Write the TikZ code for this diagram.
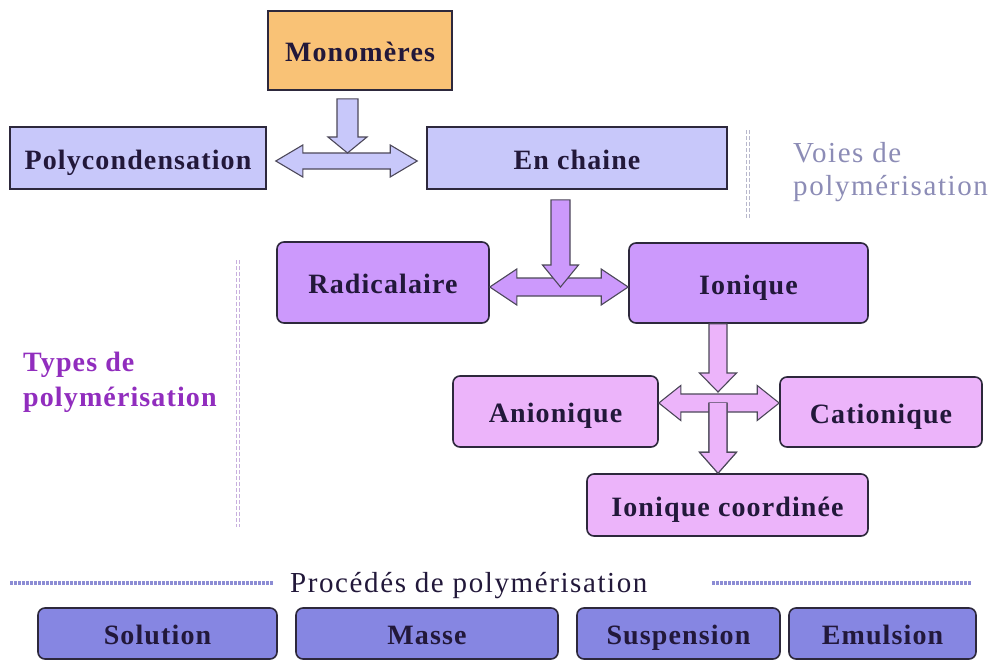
\documentclass[tikz,border=0pt]{standalone}
\usepackage{fontspec}
\setmainfont{Liberation Serif}
\newfontfamily\trackfont{Liberation Serif}[LetterSpace=4]
\newfontfamily\trackfontw{Liberation Serif}[LetterSpace=5.5]
\usetikzlibrary{calc}
\definecolor{monofill}{RGB}{249,194,118}
\definecolor{bluefill}{RGB}{200,200,250}
\definecolor{purpfill}{RGB}{204,153,252}
\definecolor{pinkfill}{RGB}{236,180,250}
\definecolor{procfill}{RGB}{134,134,226}
\definecolor{boxline}{RGB}{45,40,60}
\definecolor{txtdark}{RGB}{34,24,58}
\definecolor{voiescol}{RGB}{140,140,182}
\definecolor{typescol}{RGB}{145,45,190}
\definecolor{dotblue}{RGB}{140,140,212}
\definecolor{dotgray}{RGB}{184,184,204}
\definecolor{dotpurp}{RGB}{200,176,222}
\newcommand\blockdown[6]{%
  \filldraw[#1] ($(#2)+(-#4,0)$) -- ($(#3)+(-#4,-#6)$) -- ($(#3)+(-#5,-#6)$) -- (#3)
    -- ($(#3)+(#5,-#6)$) -- ($(#3)+(#4,-#6)$) -- ($(#2)+(#4,0)$) -- cycle;}
\newcommand\blockdownopen[6]{%
  \fill[#1] ($(#2)+(-#4,0)$) -- ($(#3)+(-#4,-#6)$) -- ($(#3)+(-#5,-#6)$) -- (#3)
    -- ($(#3)+(#5,-#6)$) -- ($(#3)+(#4,-#6)$) -- ($(#2)+(#4,0)$) -- cycle;
  \draw[#1] ($(#2)+(-#4,0)$) -- ($(#3)+(-#4,-#6)$) -- ($(#3)+(-#5,-#6)$) -- (#3)
    -- ($(#3)+(#5,-#6)$) -- ($(#3)+(#4,-#6)$) -- ($(#2)+(#4,0)$);}
\newcommand\blockdouble[6]{%
  \filldraw[#1] (#2) -- ($(#2)+(#6,-#5)$) -- ($(#2)+(#6,-#4)$) -- ($(#3)+(-#6,-#4)$)
    -- ($(#3)+(-#6,-#5)$) -- (#3) -- ($(#3)+(-#6,#5)$) -- ($(#3)+(-#6,#4)$)
    -- ($(#2)+(#6,#4)$) -- ($(#2)+(#6,#5)$) -- cycle;}
\begin{document}
\begin{tikzpicture}[x=1pt,y=-1pt,
  boxfont/.style={font=\trackfont\bfseries\fontsize{28}{32}\selectfont, text=txtdark},
  sqbox/.style={boxfont, draw=boxline, line width=1.6pt, inner sep=0pt, text height=22pt, text depth=0pt},
  rdbox/.style={sqbox, rounded corners=7pt},
  procbox/.style={rdbox, fill=procfill, minimum height=51pt},
  sidefont/.style={font=\trackfontw\fontsize{29}{34}\selectfont, anchor=base west, inner sep=0pt},
  arrowline/.style={draw=boxline!85, line width=1.1pt, line join=miter},
  dotline/.style={line width=3.2pt, dash pattern=on 3pt off 1pt},
  vdot/.style={line width=0.9pt, dash pattern=on 4pt off 2pt}]
\useasboundingbox[fill=white] (0,0) rectangle (995,661);

% boxes
\node[sqbox, fill=monofill, minimum width=184pt, minimum height=79pt] (mono) at (360,50.5) {Monomères};
\node[sqbox, fill=bluefill, minimum width=256pt, minimum height=62pt] (poly) at (138,158) {Polycondensation};
\node[sqbox, fill=bluefill, minimum width=300pt, minimum height=62pt] (chain) at (577,158) {En chaine};
\node[rdbox, fill=purpfill, minimum width=212pt, minimum height=81pt] (rad) at (383,282.5) {Radicalaire};
\node[rdbox, fill=purpfill, minimum width=239pt, minimum height=80pt] (ion) at (748.5,283) {Ionique};
\node[rdbox, fill=pinkfill, minimum width=205pt, minimum height=71pt] (anion) at (555.5,411.5) {Anionique};
\node[rdbox, fill=pinkfill, minimum width=202pt, minimum height=70pt] (cation) at (881,412) {Cationique};
\node[rdbox, fill=pinkfill, minimum width=281pt, minimum height=62pt] (coord) at (727.5,505) {Ionique coordinée};

\node[procbox, minimum width=239pt] (solution) at (157.5,633.5) {Solution};
\node[procbox, minimum width=262pt] (masse) at (427,633.5) {Masse};
\node[procbox, minimum width=203pt] (suspension) at (678.5,633.5) {Suspension};
\node[procbox, minimum width=187pt] (emulsion) at (882.5,633.5) {Emulsion};

% side labels
\node[sidefont, text=voiescol] (voies1) at (793,162) {Voies de};
\node[sidefont, text=voiescol] (voies2) at (793,195) {polymérisation};
\node[boxfont, text=typescol, anchor=base west, inner sep=0pt] (types1) at (23,371) {Types de};
\node[boxfont, text=typescol, anchor=base west, inner sep=0pt] (types2) at (23,406) {polymérisation};
\node[sidefont, text=txtdark] (proc) at (290,592) {Procédés de polymérisation};

% separator lines
\draw[dotline, draw=dotblue] (10,583) -- (273,583);
\draw[dotline, draw=dotblue] (712,583) -- (972,583);
\draw[vdot, draw=dotgray] (746.5,130) -- (746.5,218);
\draw[vdot, draw=dotgray] (749.5,130) -- (749.5,218);
\draw[vdot, draw=dotpurp] (236.5,260) -- (236.5,527);
\draw[vdot, draw=dotpurp] (239.5,260) -- (239.5,527);

% junction coordinates
\coordinate (j1) at (347.5,161);
\path (mono.south -| j1) ++(0,8) coordinate (a1s);
\path (j1) ++(0,-8) coordinate (a1t);
\path (poly.east |- j1) ++(9,0) coordinate (d1l);
\path (chain.west |- j1) ++(-9,0) coordinate (d1r);

\coordinate (j2) at (560.5,287);
\path (chain.south -| j2) ++(0,10) coordinate (a2s);
\path (rad.east |- j2) coordinate (d2l);
\path (ion.west |- j2) coordinate (d2r);

\coordinate (j3) at (718,403);
\path (ion.south -| j3) coordinate (a3s);
\path (j3) ++(0,-11) coordinate (a3t);
\path (anion.east |- j3) coordinate (d3l);
\path (cation.west |- j3) coordinate (d3r);
\path (coord.north -| j3) coordinate (a4t);

% block arrows
\blockdouble{arrowline, fill=bluefill}{d1l}{d1r}{8}{16}{27}
\blockdown{arrowline, fill=bluefill}{a1s}{a1t}{10.5}{19.5}{16}

\blockdouble{arrowline, fill=purpfill}{d2l}{d2r}{9}{18}{27}
\blockdown{arrowline, fill=purpfill}{a2s}{j2}{9.5}{18}{22}

\blockdouble{arrowline, fill=pinkfill}{d3l}{d3r}{9}{17.5}{22}
\blockdown{arrowline, fill=pinkfill}{a3s}{a3t}{9}{18.5}{19}
\blockdownopen{arrowline, fill=pinkfill}{j3}{a4t}{9}{18.5}{21}
\end{tikzpicture}
\end{document}
